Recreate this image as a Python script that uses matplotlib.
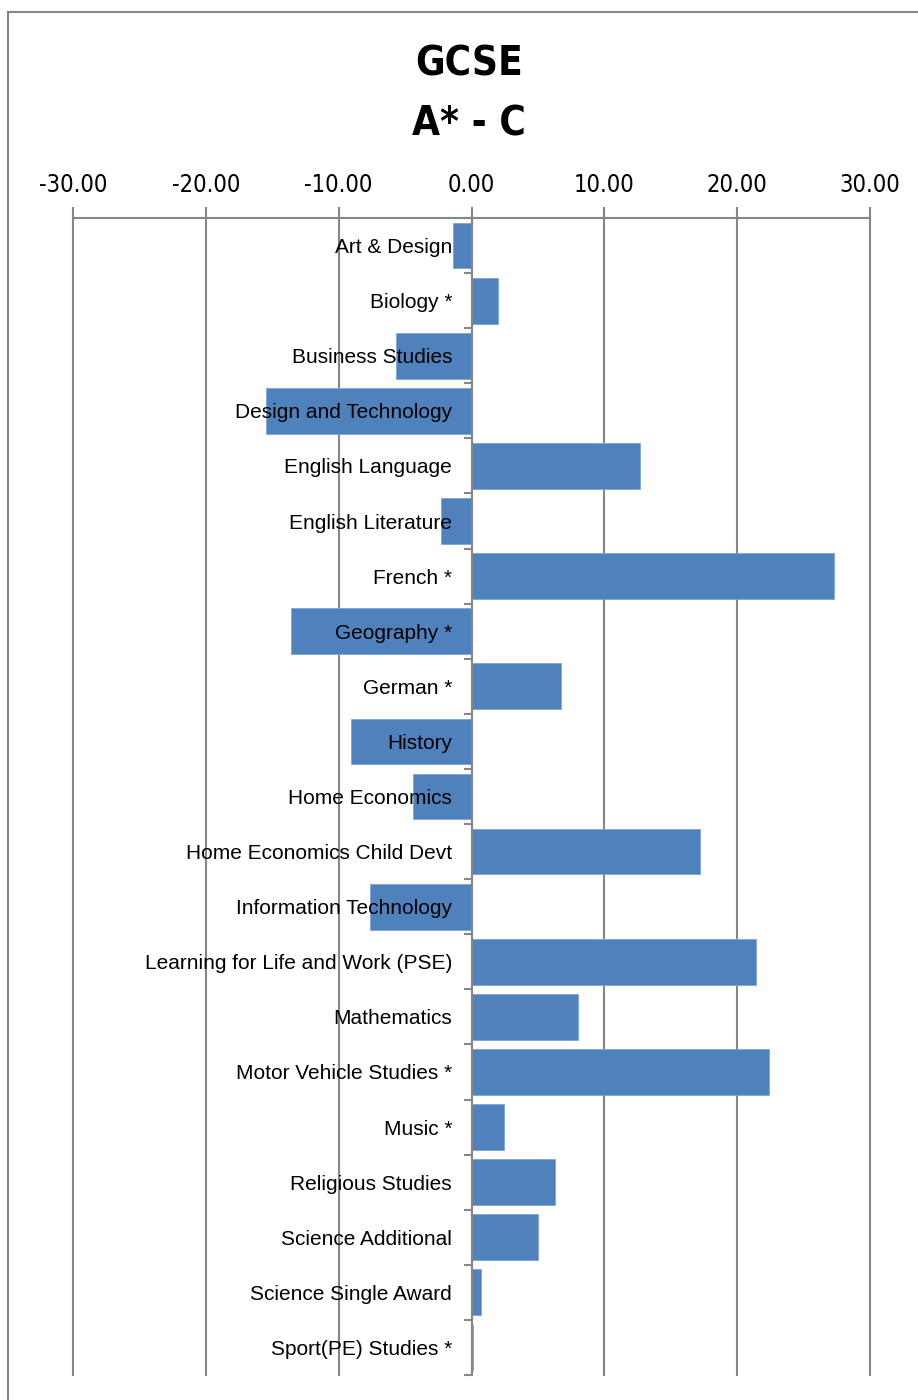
import matplotlib
matplotlib.use("Agg")
import matplotlib.pyplot as plt
from matplotlib.lines import Line2D
from matplotlib.ticker import FormatStrFormatter, FixedLocator

plt.rcParams['axes.unicode_minus'] = False

subjects = [
    "Art & Design", "Biology *", "Business Studies", "Design and Technology",
    "English Language", "English Literature", "French *", "Geography *",
    "German *", "History", "Home Economics", "Home Economics Child Devt",
    "Information Technology", "Learning for Life and Work (PSE)", "Mathematics",
    "Motor Vehicle Studies *", "Music *", "Religious Studies",
    "Science Additional", "Science Single Award", "Sport(PE) Studies *",
]
values = [
    -1.43, 1.96, -5.72, -15.50, 12.70, -2.33, 27.26, -13.60, 6.77, -9.10,
    -4.44, 17.20, -7.67, 21.40, 8.05, 22.40, 2.48, 6.32, 5.04, 0.68, 0.10,
]
xticks = [-30, -20, -10, 0, 10, 20, 30]

bar_color = "#4f81bd"
grid_color = "#868686"

fig = plt.figure(figsize=(9.18, 14), dpi=100)
ax = fig.add_axes([73 / 918, 1 - 1375 / 1400, (870 - 73) / 918, (1375 - 218) / 1400])

pos = list(range(len(subjects)))
ax.barh(pos, values, height=0.83, color=bar_color, edgecolor="#7ea6d6",
        linewidth=0.6, zorder=1)

# vertical gridlines under the bars
for t in xticks:
    ax.axvline(t, color=grid_color, lw=1.5, zorder=0, clip_on=False)

ax.set_xlim(-30, 30)
ax.set_ylim(len(subjects) - 0.5, -0.5)

ax.xaxis.set_ticks_position("top")
ax.xaxis.set_major_locator(FixedLocator(xticks))
ax.xaxis.set_major_formatter(FormatStrFormatter("%.2f"))
ax.tick_params(axis="x", direction="out", length=8, width=1.5, color=grid_color,
               pad=7, labelsize=17)
for lab in ax.get_xticklabels():
    lab.set_family("DejaVu Sans")
    lab.set_stretch("condensed")

# category axis sitting on zero
ax.spines["left"].set_position(("data", 0))
ax.spines["left"].set_color(grid_color)
ax.spines["left"].set_linewidth(1.5)
ax.spines["left"].set_zorder(2)
ax.spines["top"].set_color(grid_color)
ax.spines["top"].set_linewidth(1.5)
ax.spines["right"].set_visible(False)
ax.spines["bottom"].set_visible(False)

ax.set_yticks(pos)
ax.set_yticklabels(subjects, fontsize=15, family=["Liberation Sans", "DejaVu Sans"])
ax.tick_params(axis="y", which="major", length=0, pad=14)
ax.set_yticks([p - 0.5 for p in pos] + [len(subjects) - 0.5], minor=True)
ax.tick_params(axis="y", which="minor", length=6, width=1.5, color=grid_color,
               direction="out")
ax.set_facecolor("none")

for txt, yy in [("GCSE", 64), ("A* - C", 124)]:
    fig.text(0.511, 1 - yy / 1400, txt, ha="center", va="center", fontsize=29,
             fontweight="bold", family="DejaVu Sans", stretch="condensed")

# chart frame
fig.add_artist(Line2D([8 / 918, 8 / 918], [0, 1 - 12 / 1400], color=grid_color,
                      lw=1.5, transform=fig.transFigure))
fig.add_artist(Line2D([8 / 918, 1], [1 - 12 / 1400, 1 - 12 / 1400], color=grid_color,
                      lw=1.5, transform=fig.transFigure))

fig.savefig("out.png", dpi=100)
